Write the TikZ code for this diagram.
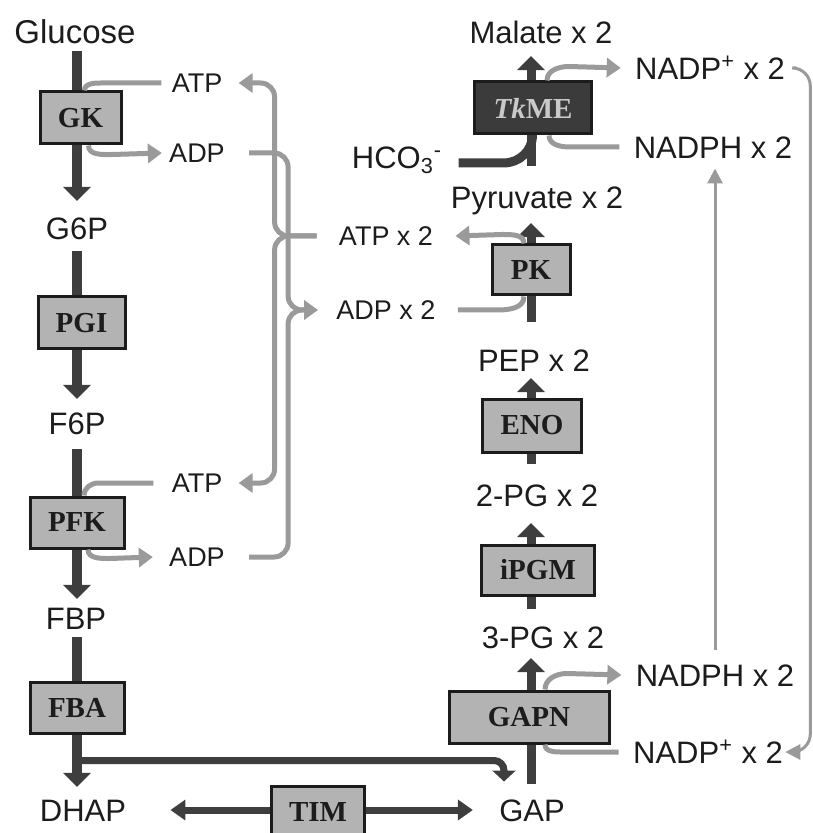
\documentclass[tikz,border=0pt]{standalone}
\usepackage{fontspec}
\setmainfont{Liberation Sans}
\newfontfamily\enzfont{Liberation Serif}
\usetikzlibrary{arrows.meta}

\definecolor{ink}{HTML}{1C1C1C}
\definecolor{flowc}{HTML}{3E3E3E}
\definecolor{cofc}{HTML}{9A9A9A}
\definecolor{boxfill}{HTML}{B3B3B3}
\definecolor{darkbox}{HTML}{3B3B3B}
\definecolor{tkmetext}{HTML}{C9C9C9}

\def\metsize{\fontsize{15.5}{18}\selectfont}
\def\cofsize{\fontsize{13.5}{16}\selectfont}
\def\enzsize{\enzfont\bfseries\fontsize{14.5}{17}\selectfont}

\begin{document}
\begin{tikzpicture}[x=0.5pt,y=-0.5pt,
    met/.style={font=\metsize,text=ink,inner sep=0pt,text height=11.1pt,text depth=0pt},
    cof/.style={font=\cofsize,text=ink,inner sep=0pt,text height=9.7pt,text depth=0pt},
    enz/.style={draw=ink,line width=1.5pt,fill=boxfill,font=\enzsize,text=ink,inner sep=0pt},
    flow/.style={draw=flowc,line width=5pt,-{Triangle[width=13.5pt,length=7pt]}},
    flowline/.style={draw=flowc,line width=4.5pt},
    side/.style={draw=flowc,line width=3.5pt},
    cofarr/.style={draw=cofc,line width=2.5pt,-{Triangle[width=9.5pt,length=7pt]}},
    cofline/.style={draw=cofc,line width=2.5pt},
    redox/.style={draw=cofc,line width=1.5pt,-{Triangle[width=7.5pt,length=7.5pt]}}]

    \useasboundingbox (0,0) rectangle (812,833);
    \coordinate (lcol) at (77,0);
    \coordinate (rcol) at (531,0);

    % glycolysis, left column
    \node[met,font=\fontsize{16.5}{19}\selectfont] (glc) at (75,32) {Glucose};
    \node[met] (g6p) at (77,228) {G6P};
    \node[met] (f6p) at (77,423) {F6P};
    \node[met] (fbp) at (76,618) {FBP};
    \node[met] (dhap) at (83,810) {DHAP};
    \node[cof] (atpA) at (197,83) {ATP};
    \node[cof] (adpA) at (197,153) {ADP};
    \node[cof] (atpB) at (197,483) {ATP};
    \node[cof] (adpB) at (197,557) {ADP};
    \node[cof] (atp2) at (386,236) {ATP x 2};
    \node[cof] (adp2) at (386,310) {ADP x 2};

    % right column
    \node[met] (mal) at (541,32) {Malate x 2};
    \node[met] (hco) at (397,157) {HCO\textsubscript{3}\textsuperscript{-}};
    \node[met] (pyr) at (537,197) {Pyruvate x 2};
    \node[met] (pep) at (534,360) {PEP x 2};
    \node[met] (pg2) at (537,495) {2-PG x 2};
    \node[met] (pg3) at (543,637) {3-PG x 2};
    \node[met] (gap) at (532,810) {GAP};
    \node[met] (nadpA) at (710,68) {NADP\textsuperscript{+} x 2};
    \node[met] (nadphA) at (713,147) {NADPH x 2};
    \node[met] (nadphB) at (715,675) {NADPH x 2};
    \node[met] (nadpB) at (708,752) {NADP\textsuperscript{+} x 2};

    \draw[flow,shorten <=3.8pt,shorten >=7.8pt] (lcol |- glc.south) -- (lcol |- g6p.north);
    \draw[flow,shorten <=5.8pt,shorten >=6.3pt] (lcol |- g6p.south) -- (lcol |- f6p.north);
    \draw[flow,shorten <=7.3pt,shorten >=3.8pt] (lcol |- f6p.south) -- (lcol |- fbp.north);
    \draw[flow,shorten <=3.8pt,shorten >=5.8pt] (lcol |- fbp.south) -- (lcol |- dhap.north);

    \draw[flow,line width=4.5pt,shorten <=7.3pt,shorten >=4.8pt] (rcol |- gap.north) -- (rcol |- pg3.south);
    \draw[flow,line width=4.5pt,shorten <=8.3pt,shorten >=8.3pt] (rcol |- pg3.north) -- (rcol |- pg2.south);
    \draw[flow,line width=4.5pt,shorten <=9.8pt,shorten >=3.3pt] (rcol |- pg2.north) -- (rcol |- pep.south);
    \draw[flow,line width=4.5pt,shorten <=13.3pt,shorten >=7.3pt] (rcol |- pep.north) -- (rcol |- pyr.south);
    \draw[flow,line width=4.5pt,shorten <=9.8pt,shorten >=6.3pt] (rcol |- pyr.north) -- (rcol |- mal.south);

    \draw[side,rounded corners=5pt,-{Triangle[width=11.5pt,length=5.5pt]}] (lcol |- dhap.north) ++(0,-38) -| ([xshift=-14pt,yshift=8.5pt]gap.north);
    \draw[side,{Triangle[width=10pt,length=7.5pt]}-{Triangle[width=10pt,length=7.5pt]}] ([xshift=22pt]dhap.east) -- ([xshift=-13pt]gap.west);
    \draw[flowline] ([xshift=8pt,yshift=-3pt]hco.east) -- ++(45,0) to[out=0,in=-90] ++(29,-28);

    % enzymes
    \node[enz,minimum width=40.5pt,minimum height=26pt] (gk) at (80.5,118) {GK};
    \node[enz,minimum width=43.5pt,minimum height=26pt] (pgi) at (81.5,323) {PGI};
    \node[enz,minimum width=47pt,minimum height=25.5pt] (pfk) at (77,522.5) {PFK};
    \node[enz,minimum width=47pt,minimum height=25.5pt] (fba) at (77,707.5) {FBA};
    \node[enz,minimum width=46.5pt,minimum height=26pt] (tim) at (318,812) {TIM};
    \node[enz,minimum width=80pt,minimum height=26pt] (gapn) at (529,717) {GAPN};
    \node[enz,minimum width=56.5pt,minimum height=25pt] (ipgm) at (538,570) {iPGM};
    \node[enz,minimum width=49.5pt,minimum height=26.5pt] (eno) at (532,425.5) {ENO};
    \node[enz,minimum width=39pt,minimum height=25pt] (pk) at (531,270) {PK};
    \node[enz,minimum width=58.5pt,minimum height=26pt,fill=darkbox,text=tkmetext] (tkme) at (533,108) {\textit{Tk}ME};

    % cofactors
    \draw[cofline] ([xshift=-5pt]atpA.west) -- ++(-60,0) to[out=180,in=90] ([xshift=2pt]gk.north);
    \draw[cofarr] ([xshift=4pt]gk.south) to[out=-90,in=180] ++(24,9) -- ([xshift=-3.5pt]adpA.west);
    \draw[cofline] ([xshift=-9pt]atpB.west) -- ++(-55,0) to[out=180,in=90] ([xshift=3.5pt]pfk.north);
    \draw[cofarr] ([xshift=5.5pt]pfk.south) to[out=-90,in=180] ++(22,9) -- ([xshift=-8pt]adpB.west);
    \draw[cofarr] ([xshift=-3.5pt]pk.north) to[out=90,in=0] ++(-22,-9) -- ([xshift=11pt]atp2.east);
    \draw[cofline] ([xshift=11pt]adp2.east) -- ++(40,0) to[out=0,in=-90] ([xshift=-3.5pt]pk.south);
    \draw[cofarr] ([xshift=7pt]tkme.north) to[out=90,in=180] ++(22,-14) -- ([xshift=-7pt]nadpA.west);
    \draw[cofline] ([xshift=-7pt]nadphA.west) -- ++(-50,0) to[out=180,in=-90] ([xshift=8pt]tkme.south);
    \draw[cofarr] ([xshift=8pt]gapn.north) to[out=90,in=180] ++(22,-16) -- ([xshift=-7pt]nadphB.west);
    \draw[cofline] ([xshift=-7pt]nadpB.west) -- ++(-55,0) to[out=180,in=-90] ([xshift=8pt]gapn.south);

    \draw[cofarr,rounded corners=7pt] ([xshift=-11pt]atp2.west) -- ([xshift=-32pt]atp2.west) |- ([xshift=8pt]atpA.east);
    \draw[cofarr,rounded corners=7pt] ([xshift=-11pt]atp2.west) -- ([xshift=-32pt]atp2.west) |- ([xshift=8pt]atpB.east);
    \draw[cofarr,rounded corners=7pt] ([xshift=12pt]adpA.east) -| ([xshift=-24pt]adp2.west) -- ([xshift=-9pt]adp2.west);
    \draw[cofline,rounded corners=7pt] ([xshift=12pt]adpB.east) -| ([xshift=-24pt]adp2.west) -- ([xshift=-15pt]adp2.west);

    \draw[redox,rounded corners=9pt] ([xshift=5.5pt]nadpA.east) -- ++(14,0) |- ([xshift=1pt]nadpB.east);
    \draw[redox,shorten <=7pt,shorten >=5pt] (nadphB.north) -- (nadphB.north |- nadphA.south);

\end{tikzpicture}
\end{document}
